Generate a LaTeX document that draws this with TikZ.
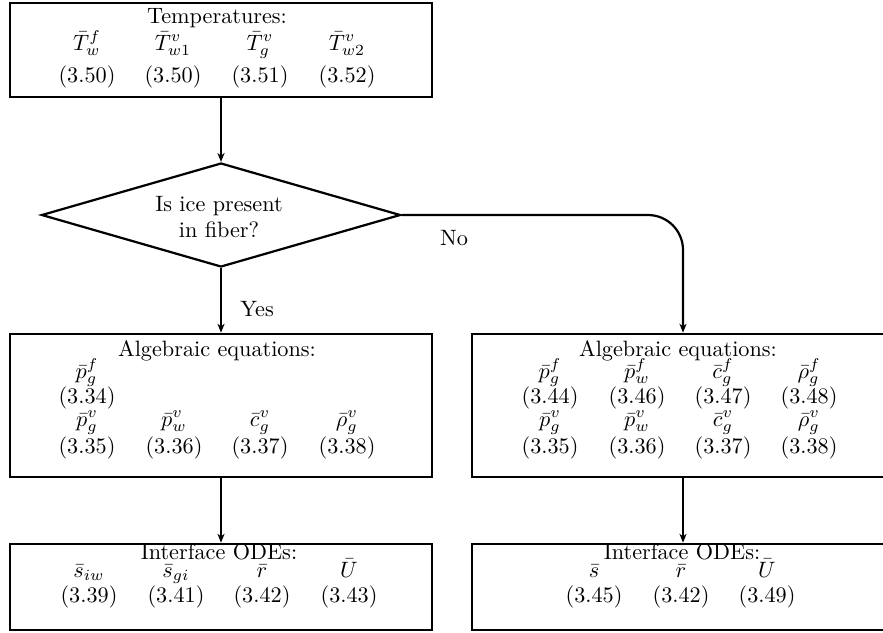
\documentclass[tikz,border=0pt]{standalone}
\usetikzlibrary{shapes.geometric,arrows.meta}
\def\PX{0.45pt}
\tikzset{
  box/.style={draw, rectangle, line width=1.2pt, inner sep=0pt, minimum width=422*\PX},
  decision/.style={draw, diamond, line width=1pt, inner sep=0pt, minimum width=359*\PX, minimum height=104*\PX},
  txt/.style={anchor=base, inner sep=0pt},
  conn/.style={line width=0.8pt, -{Stealth[length=4pt,width=3.2pt,inset=1.2pt]}},
  lbl/.style={inner sep=0pt}
}
\begin{document}
\begin{tikzpicture}[x=0.45pt, y=-0.45pt]
\useasboundingbox (0,0) rectangle (883,632);
% boxes
\node[box, minimum height=94*\PX] (top) at (221,50) {};
\node[decision] (dia) at (221,215) {};
\node[box, minimum height=143*\PX] (lalg) at (221,405.5) {};
\node[box, minimum height=143*\PX] (ralg) at (683,405.5) {};
\node[box, minimum height=86*\PX] (lode) at (221,587) {};
\node[box, minimum height=86*\PX] (rode) at (683,587) {};
% top box text
\node[txt] (tt) at (217,23) {Temperatures:};
\node[txt] (t1) at (87,50) {$\bar T_w^f$};
\node[txt] (t2) at (173,50) {$\bar T_{w1}^v$};
\node[txt] (t3) at (260,50) {$\bar T_g^v$};
\node[txt] (t4) at (347,50) {$\bar T_{w2}^v$};
\node[txt] (n1) at (87,82) {(3.50)};
\node[txt] (n2) at (173,82) {(3.50)};
\node[txt] (n3) at (260,82) {(3.51)};
\node[txt] (n4) at (347,82) {(3.52)};
% diamond text
\node[lbl, align=center] (q) at (219,217) {Is ice present\\in fiber?};
% left algebraic
\node[txt] (la) at (217,356) {Algebraic equations:};
\node[txt] (la1) at (87,378) {$\bar p_g^f$};
\node[txt] (la1n) at (87,403) {(3.34)};
\node[txt] (la2) at (87,426) {$\bar p_g^v$};
\node[txt] (la3) at (174,426) {$\bar p_w^v$};
\node[txt] (la4) at (260,426) {$\bar c_g^v$};
\node[txt] (la5) at (347,426) {$\bar \rho_g^v$};
\node[txt] (la2n) at (87,453) {(3.35)};
\node[txt] (la3n) at (174,453) {(3.36)};
\node[txt] (la4n) at (260,453) {(3.37)};
\node[txt] (la5n) at (347,453) {(3.38)};
% right algebraic
\node[txt] (ra) at (678,356) {Algebraic equations:};
\node[txt] (ra1) at (550,378) {$\bar p_g^f$};
\node[txt] (ra2) at (637,378) {$\bar p_w^f$};
\node[txt] (ra3) at (723,378) {$\bar c_g^f$};
\node[txt] (ra4) at (809,378) {$\bar \rho_g^f$};
\node[txt] (ra1n) at (550,403) {(3.44)};
\node[txt] (ra2n) at (637,403) {(3.46)};
\node[txt] (ra3n) at (723,403) {(3.47)};
\node[txt] (ra4n) at (809,403) {(3.48)};
\node[txt] (ra5) at (550,426) {$\bar p_g^v$};
\node[txt] (ra6) at (637,426) {$\bar p_w^v$};
\node[txt] (ra7) at (723,426) {$\bar c_g^v$};
\node[txt] (ra8) at (809,426) {$\bar \rho_g^v$};
\node[txt] (ra5n) at (550,453) {(3.35)};
\node[txt] (ra6n) at (637,453) {(3.36)};
\node[txt] (ra7n) at (723,453) {(3.37)};
\node[txt] (ra8n) at (809,453) {(3.38)};
% left ODE
\node[txt] (lo) at (219,559) {Interface ODEs:};
\node[txt] (lo1) at (89,577) {$\bar s_{iw}$};
\node[txt] (lo2) at (176,577) {$\bar s_{gi}$};
\node[txt] (lo3) at (262,577) {$\bar r$};
\node[txt] (lo4) at (349,577) {$\bar U$};
\node[txt] (lo1n) at (89,602) {(3.39)};
\node[txt] (lo2n) at (176,602) {(3.41)};
\node[txt] (lo3n) at (262,602) {(3.42)};
\node[txt] (lo4n) at (349,602) {(3.43)};
% right ODE
\node[txt] (ro) at (682,559) {Interface ODEs:};
\node[txt] (ro1) at (594,577) {$\bar s$};
\node[txt] (ro2) at (681,577) {$\bar r$};
\node[txt] (ro3) at (767,577) {$\bar U$};
\node[txt] (ro1n) at (594,602) {(3.45)};
\node[txt] (ro2n) at (681,602) {(3.42)};
\node[txt] (ro3n) at (767,602) {(3.49)};
% connectors
\draw[conn] (top.south) -- (dia.north);
\draw[conn] (dia.south) -- node[pos=0.63, right=5pt] (yes) {Yes} (lalg.north);
\draw[conn, line width=1pt, rounded corners=15.75pt] (dia.east) -| (ralg.north);
\node[lbl] (no) at (454,238) {No};
\draw[conn] (lalg.south) -- (lode.north);
\draw[conn] (ralg.south) -- (rode.north);
\end{tikzpicture}
\end{document}
